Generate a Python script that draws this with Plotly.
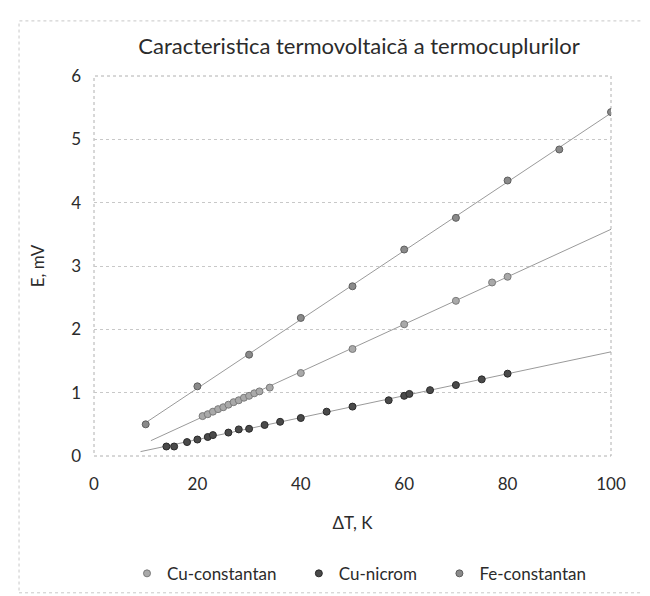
import numpy as np
import plotly.graph_objects as go

# ---------------- data ----------------
title_text = "Caracteristica termovoltaică a termocuplurilor"
x_title = "ΔT, K"
y_title = "E, mV"

series_names = ["Cu-constantan", "Cu-nicrom", "Fe-constantan"]

cu_constantan_dT = [21, 22, 23, 24, 25, 26, 27, 28, 29, 30, 31, 32, 34, 40, 50, 60, 70, 77, 80]
cu_constantan_E = [0.63, 0.66, 0.70, 0.74, 0.77, 0.81, 0.85, 0.88, 0.92, 0.95, 0.99, 1.02,
                   1.08, 1.31, 1.69, 2.08, 2.45, 2.74, 2.83]

cu_nicrom_dT = [14, 15.5, 18, 20, 22, 23, 26, 28, 30, 33, 36, 40, 45, 50, 57, 60, 61, 65, 70, 75, 80]
cu_nicrom_E = [0.15, 0.15, 0.22, 0.26, 0.30, 0.33, 0.37, 0.42, 0.43, 0.49, 0.54, 0.60,
               0.70, 0.78, 0.88, 0.95, 0.98, 1.04, 1.12, 1.21, 1.30]

fe_constantan_dT = [10, 20, 30, 40, 50, 60, 70, 80, 90, 100]
fe_constantan_E = [0.50, 1.10, 1.60, 2.18, 2.68, 3.26, 3.76, 4.35, 4.84, 5.43]

# linear trendline spans (x from / to)
cu_constantan_trend = [11, 100]
cu_nicrom_trend = [9, 100]
fe_constantan_trend = [10, 100]

x_ticks = [0, 20, 40, 60, 80, 100]
y_ticks = [0, 1, 2, 3, 4, 5, 6]

# ---------------- styling ----------------
marker_colors = {"Cu-constantan": "#a9a9a9", "Cu-nicrom": "#4a4a4a", "Fe-constantan": "#8a8a8a"}
marker_lines = {"Cu-constantan": "#7a7a7a", "Cu-nicrom": "#2a2a2a", "Fe-constantan": "#5e5e5e"}
trend_color = "#9a9a9a"
font_family = "Lato, 'Open Sans', sans-serif"
text_color = "#2b2b2b"

fig = go.Figure()

series = [
    ("Cu-constantan", cu_constantan_dT, cu_constantan_E, cu_constantan_trend),
    ("Cu-nicrom", cu_nicrom_dT, cu_nicrom_E, cu_nicrom_trend),
    ("Fe-constantan", fe_constantan_dT, fe_constantan_E, fe_constantan_trend),
]

# trendlines first (below markers)
for name, xs, ys, tr in series:
    k, b = np.polyfit(xs, ys, 1)
    tx = np.array(tr, dtype=float)
    fig.add_trace(go.Scatter(
        x=tx, y=k * tx + b, mode="lines",
        line=dict(color=trend_color, width=1),
        showlegend=False, hoverinfo="skip",
    ))

for name, xs, ys, tr in series:
    fig.add_trace(go.Scatter(
        x=xs, y=ys, mode="markers", name=name + "    ",
        marker=dict(symbol="circle", size=7, color=marker_colors[name],
                    line=dict(color=marker_lines[name], width=1)),
    ))

fig.update_layout(
    width=650, height=596,
    paper_bgcolor="white", plot_bgcolor="white",
    margin=dict(l=86, r=47, t=68, b=138),
    font=dict(family=font_family, color=text_color, size=17),
    title=dict(text=title_text, x=0.54, xanchor="center", y=0.935, yanchor="middle",
               font=dict(size=22, family=font_family, color=text_color)),
    showlegend=True,
    legend=dict(orientation="h", x=0.53, xanchor="center", y=-0.31, yanchor="middle",
                font=dict(size=17), itemsizing="trace", tracegroupgap=0,
                itemwidth=30),
    xaxis=dict(range=[0, 100], tickvals=x_ticks, showgrid=False, zeroline=False,
               ticks="", showline=False, tickfont=dict(size=17), ticklabelstandoff=16,
               title=dict(text=x_title, font=dict(size=17), standoff=24)),
    yaxis=dict(range=[0, 6], tickvals=y_ticks, showgrid=True, gridcolor="#c8c8c8",
               griddash="dot", gridwidth=1, zeroline=False, ticks="", showline=False,
               tickfont=dict(size=17), ticklabelstandoff=12,
               title=dict(text=y_title, font=dict(size=17), standoff=22)),
    shapes=[
        dict(type="rect", xref="paper", yref="paper", x0=0, x1=1, y0=0, y1=1,
             line=dict(color="#b0b0b0", width=1, dash="dot"), layer="below"),
        dict(type="rect", xref="paper", yref="paper", x0=-0.145, x1=1.075, y0=-0.36, y1=1.145,
             line=dict(color="#c8c8c8", width=1, dash="dot"), layer="below"),
    ],
)

fig.write_html("out.html")
